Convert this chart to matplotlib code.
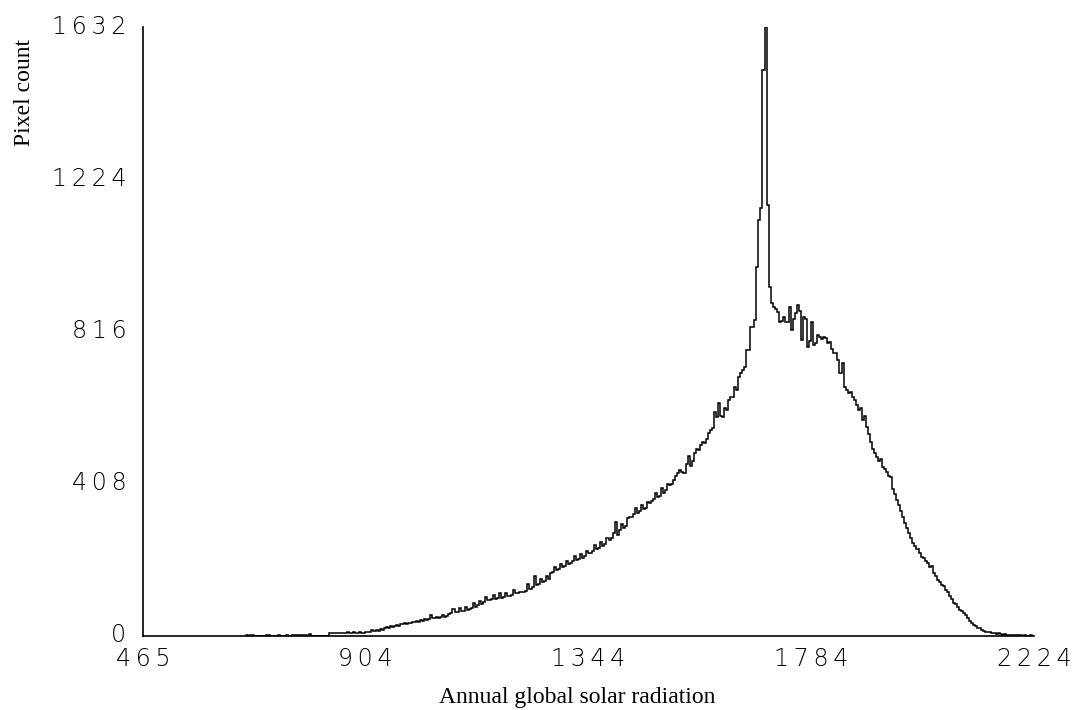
import numpy as np
import matplotlib
matplotlib.use("Agg")
import matplotlib.pyplot as plt
import matplotlib.transforms as mtransforms

# ---------------- data ----------------
bin_start = 668          # first bin edge (radiation units)
bin_width = 4            # bin width (radiation units)

counts_left_tail = [
    3, 0, 4, 3, 0, 0, 0, 0, 0, 0,
    3, 3, 0, 0, 0, 0, 3, 0, 0, 0,
    3, 0, 0, 2, 2, 2, 2, 2, 2, 2,
    1, 6, 1, 1, 1, 1, 1, 1, 1, 1,
    1, 8, 8, 8, 8, 8, 8, 8, 8, 8,
    11, 8, 8, 12, 8, 8, 12, 8, 9, 10,
]
counts_rise = [
    12, 11, 15, 13, 16, 14, 18, 17, 22, 24,
    22, 26, 25, 28, 30, 27, 32, 31, 35, 33,
    36, 34, 38, 37, 40, 38, 43, 41, 45, 42,
    46, 56, 48, 47, 50, 48, 52, 55, 50, 54,
    60, 61, 72, 63, 64, 76, 66, 67, 79, 70,
    72, 75, 88, 79, 82, 95, 86, 90, 104, 96,
    96, 98, 110, 100, 101, 114, 103, 104, 116, 106,
    108, 110, 124, 114, 116, 118, 117, 118, 120, 140,
    126, 130, 160, 138, 140, 154, 144, 147, 160, 152,
    168, 172, 186, 176, 180, 194, 184, 188, 202, 194,
    196, 200, 214, 204, 206, 220, 210, 214, 228, 222,
    222, 228, 244, 232, 236, 252, 242, 246, 262, 257,
    262, 275, 305, 272, 285, 300, 290, 296, 316, 318,
    320, 326, 342, 330, 334, 350, 340, 344, 360, 356,
    362, 366, 384, 372, 376, 396, 384, 390, 408, 404,
    408, 418, 430, 438, 445, 440, 436, 462, 482, 455,
    470, 490, 502, 498, 512, 520, 517, 528, 545, 552,
    558, 600, 588, 624, 590, 586, 612, 606, 632, 640,
]
counts_peak = [
    640, 667, 660, 694, 705, 712, 721, 766, 766, 828,
    828, 847, 989, 1115, 1147, 1517, 1632, 1155, 935, 892,
    882, 875, 868, 841, 845, 855, 841, 841, 882, 820,
    850, 865, 887, 870, 793, 855, 850, 774, 790, 841,
    780, 785, 807, 801, 795, 801, 798, 785, 788, 770,
    758, 758, 740, 705, 731, 667, 660, 651, 655, 640,
]
counts_fall = [
    632, 620, 606, 612, 579, 590, 560, 540, 520, 500,
    490, 480, 468, 475, 453, 448, 440, 430, 426, 395,
    380, 364, 350, 335, 318, 303, 290, 275, 262, 249,
    240, 232, 222, 212, 208, 200, 195, 185, 188, 170,
    160, 150, 145, 138, 133, 123, 118, 108, 98, 88,
    85, 78, 70, 66, 62, 55, 47, 40, 35, 30,
    26, 22, 21, 17, 14, 12, 11, 10, 8, 8,
    6, 8, 5, 4, 5, 3, 3, 4, 2, 2,
    2, 3, 2, 1, 2, 1, 0, 2, 0,
]

x_ticks = [465, 904, 1344, 1784, 2224]
y_ticks = [0, 408, 816, 1224, 1632]
x_label = "Annual global solar radiation"
y_label = "Pixel count"

counts = np.array(counts_left_tail + counts_rise + counts_peak + counts_fall)
edges = bin_start + bin_width * np.arange(len(counts) + 1)

# ---------------- figure ----------------
W, H = 1082, 710
fig = plt.figure(figsize=(W / 100, H / 100), dpi=100)
fig.patch.set_facecolor("white")

ax_left, ax_right, ax_top, ax_bottom = 143, 1034, 27, 636
ax = fig.add_axes([ax_left / W, (H - ax_bottom) / H,
                   (ax_right - ax_left) / W, (ax_bottom - ax_top) / H])

ax.stairs(counts, edges, baseline=0, color="black", linewidth=1.1)

ax.set_xlim(x_ticks[0], x_ticks[-1])
ax.set_ylim(y_ticks[0], y_ticks[-1])

for s in ["top", "right"]:
    ax.spines[s].set_visible(False)
for s in ["left", "bottom"]:
    ax.spines[s].set_linewidth(1.2)
    ax.spines[s].set_color("black")

def spaced(v):
    return "\u2009".join(str(v))

tick_font = dict(family="DejaVu Sans", size=17, weight="light")
ax.set_xticks(x_ticks)
ax.set_xticklabels([spaced(v) for v in x_ticks], fontdict=tick_font)
ax.set_yticks(y_ticks)
ax.set_yticklabels([spaced(v) for v in y_ticks], fontdict=tick_font)
ax.tick_params(axis="x", length=0, pad=8)
ax.tick_params(axis="y", length=0, pad=12)

# nudge y tick labels slightly upward as in the reference
shift = mtransforms.ScaledTranslation(0, 3 / 100, fig.dpi_scale_trans)
for lab in ax.get_yticklabels():
    lab.set_transform(lab.get_transform() + shift)

label_font = dict(family="Liberation Serif", size=17)
fig.text(577.5 / W, (H - 703) / H, x_label, ha="center", va="baseline",
         **label_font)
fig.text(25 / W, 1 - 92.5 / H, y_label, rotation=90, ha="center",
         va="center", **label_font)

fig.savefig("out.png", dpi=100, facecolor="white")
